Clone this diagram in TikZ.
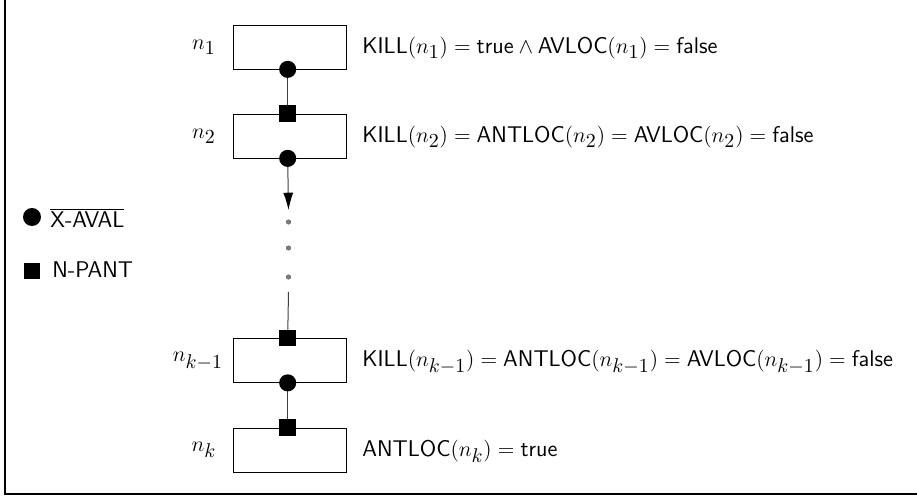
\documentclass[tikz,border=0pt]{standalone}
\usetikzlibrary{arrows.meta}
% slightly larger subscripts than the default ratio
\DeclareMathSizes{12.5}{12.5}{10.5}{8}
\DeclareMathSizes{13}{13}{10.5}{8}
\begin{document}
\begin{tikzpicture}[x=0.55pt,y=-0.55pt,
  every node/.style={font=\fontsize{12.5}{15}\selectfont},
  blockbox/.style={draw,line width=0.4pt,minimum width=62.2pt,minimum height=24.2pt,inner sep=0pt},
  xaval/.style={circle,fill=black,inner sep=0pt,minimum size=9.4pt},
  npant/.style={rectangle,fill=black,inner sep=0pt,minimum size=9.2pt},
  gap/.style={circle,fill=gray,draw=gray!60!black,line width=0.2pt,inner sep=0pt,minimum size=2.5pt},
  edge/.style={line width=0.55pt,draw=black!75},
  blabel/.style={anchor=center,font=\fontsize{13}{15}\selectfont},
  cond/.style={anchor=west,inner sep=0pt,font=\fontsize{12.5}{15}\selectfont\sffamily}]
\useasboundingbox (0,0) rectangle (917,500);
% outer frame
\draw[line width=1pt] (5,-20) rectangle (930,494);

% blocks
\node[blockbox] (b1) at (289.5,47) {};
\node[blockbox] (b2) at (289.5,136) {};
\node[blockbox] (b3) at (289.5,360.5) {};
\node[blockbox] (b4) at (289.5,450) {};

% block names
\node[blabel] (l1) at (204,47) {$n_1$};
\node[blabel] (l2) at (204,136) {$n_2$};
\node[blabel] (l3) at (198,361) {$n_{k-1}$};
\node[blabel] (l4) at (204,450) {$n_k$};

% conditions
\node[cond] (t1) at (362,48) {KILL$(n_1)=\textsf{true}\wedge\textsf{AVLOC}(n_1)=\textsf{false}$};
\node[cond] (t2) at (362,137) {KILL$(n_2)=\textsf{ANTLOC}(n_2)=\textsf{AVLOC}(n_2)=\textsf{false}$};
\node[cond] (t3) at (362,362) {KILL$(n_{k-1})=\textsf{ANTLOC}(n_{k-1})=\textsf{AVLOC}(n_{k-1})=\textsf{false}$};
\node[cond] (t4) at (362,451) {ANTLOC$(n_k)=\textsf{true}$};

% connectors
\coordinate (tip) at (288.5,210);
\coordinate (resume) at (288.5,292);
\node[gap] (d1) at (288.5,222) {};
\node[gap] (d2) at (288.5,248) {};
\node[gap] (d3) at (288.5,277) {};

\draw[edge] ([xshift=-1pt]b1.south) -- ([xshift=-1pt]b2.north);
\draw[edge,-{Latex[length=9.5pt,width=5.5pt,fill=black,color=black]}] ([xshift=-1pt]b2.south) -- (tip);
\draw[edge] (resume) -- ([xshift=-1pt]b3.north);
\draw[edge] ([xshift=-1pt]b3.south) -- ([xshift=-1pt]b4.north);

% markers on the block borders
\node[xaval] (c1) at ([xshift=-1pt]b1.south) {};
\node[npant] (s2) at ([xshift=-1pt]b2.north) {};
\node[xaval] (c2) at ([xshift=-1pt]b2.south) {};
\node[npant] (s3) at ([xshift=-1pt]b3.north) {};
\node[xaval] (c3) at ([xshift=-1pt]b3.south) {};
\node[npant] (s4) at ([xshift=-1pt]b4.north) {};

% legend
\node[xaval,minimum size=9.9pt] (lc) at (32,217) {};
\node[cond] (lct) at (50,218) {$\overline{\textsf{X-AVAL}}$};
\node[npant,minimum size=8.8pt] (ls) at (32,271) {};
\node[cond] (lst) at (52,270) {N-PANT};
\end{tikzpicture}
\end{document}
